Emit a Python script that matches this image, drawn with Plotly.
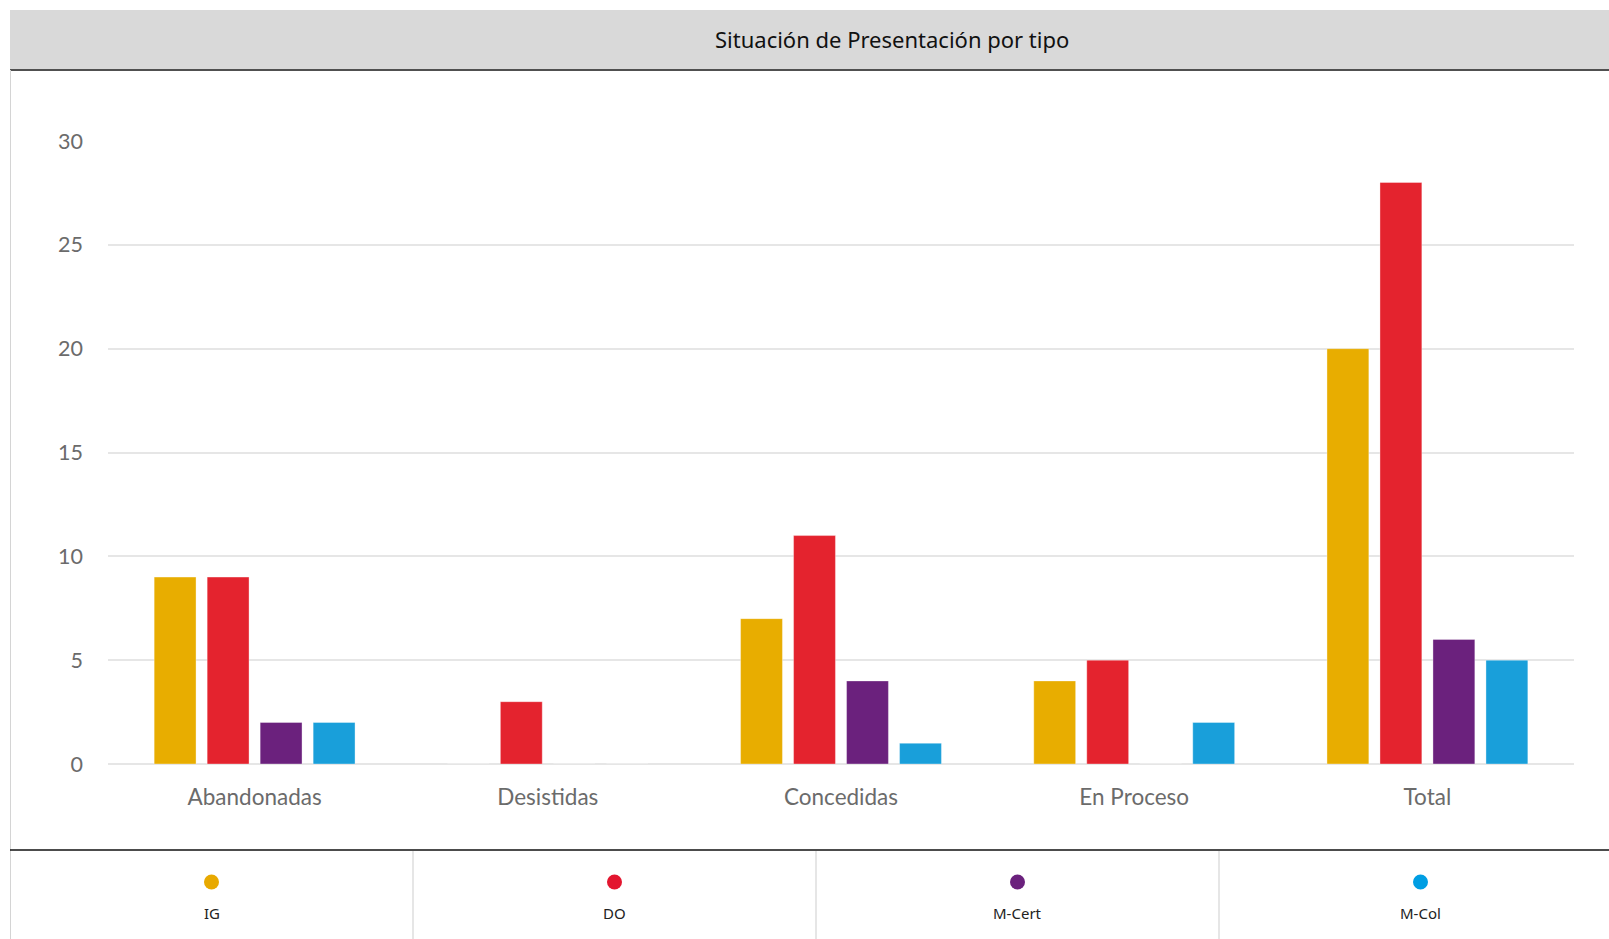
import plotly.graph_objects as go

categories = ["Abandonadas", "Desistidas", "Concedidas", "En Proceso", "Total"]
series_names = ["IG", "DO", "M-Cert", "M-Col"]
ig = [9, 0, 7, 4, 20]
do = [9, 3, 11, 5, 28]
mcert = [2, 0, 4, 0, 6]
mcol = [2, 0, 1, 2, 5]
series_values = [ig, do, mcert, mcol]
bar_colors = ["#E8AD00", "#E4232E", "#6B217D", "#199FDA"]
legend_colors = ["#E8A900", "#E3162F", "#6B217D", "#009EE3"]
y_ticks = [0, 5, 10, 15, 20, 25, 30]
title_text = "Situación de Presentación por tipo"

FW, FH = 1609, 939
L, R_PX, T_PX, B_PX = 108, 1574, 141, 764
W = R_PX - L
H = B_PX - T_PX


def xp(px):
    return (px - L) / W


def yp(py):
    return (B_PX - py) / H


fig = go.Figure()
for name, vals, col in zip(series_names, series_values, bar_colors):
    fig.add_trace(go.Bar(
        x=categories, y=vals, name=name,
        marker=dict(color=col, line=dict(color="rgba(255,255,255,0.35)", width=1)),
        hoverinfo="x+y+name",
    ))

shapes = []
# header band
shapes.append(dict(type="rect", xref="paper", yref="paper",
                   x0=xp(10), x1=xp(FW + 5), y0=yp(70), y1=yp(10),
                   fillcolor="#D9D9D9", line=dict(width=0), layer="above"))
shapes.append(dict(type="line", xref="paper", yref="paper",
                   x0=xp(10), x1=xp(FW + 5), y0=yp(70), y1=yp(70),
                   line=dict(color="#505050", width=2), layer="above"))
# left border
shapes.append(dict(type="line", xref="paper", yref="paper",
                   x0=xp(10.5), x1=xp(10.5), y0=yp(70), y1=yp(FH + 5),
                   line=dict(color="#D4D4D4", width=1), layer="above"))
# legend separator
shapes.append(dict(type="line", xref="paper", yref="paper",
                   x0=xp(10), x1=xp(FW + 5), y0=yp(850), y1=yp(850),
                   line=dict(color="#111111", width=1.5), layer="above"))
cell_w = 403
for i in range(1, 4):
    xx = 10 + i * cell_w
    shapes.append(dict(type="line", xref="paper", yref="paper",
                       x0=xp(xx), x1=xp(xx), y0=yp(851), y1=yp(FH + 5),
                       line=dict(color="#D6D6D6", width=1.2), layer="above"))

annotations = [dict(text=title_text, xref="paper", yref="paper",
                    x=xp(892), y=yp(39), xanchor="center", yanchor="middle",
                    showarrow=False, font=dict(family="Noto Sans", size=22, color="#111111"))]

for i, (name, col) in enumerate(zip(series_names, legend_colors)):
    cx = 10 + cell_w * i + cell_w / 2
    r = 7.5
    shapes.append(dict(type="circle", xref="paper", yref="paper",
                       x0=xp(cx - r), x1=xp(cx + r), y0=yp(882 + r), y1=yp(882 - r),
                       fillcolor=col, line=dict(width=0), layer="above"))
    annotations.append(dict(text=name, xref="paper", yref="paper",
                            x=xp(cx), y=yp(913), xanchor="center", yanchor="middle",
                            showarrow=False,
                            font=dict(family="Noto Sans", size=15, color="#222222")))

fig.update_layout(
    width=FW, height=FH,
    margin=dict(l=L, r=FW - R_PX, t=T_PX, b=FH - B_PX, autoexpand=False),
    paper_bgcolor="white", plot_bgcolor="white",
    barmode="group", bargap=0.277, bargroupgap=0.21,
    showlegend=False,
    shapes=shapes, annotations=annotations,
    xaxis=dict(showgrid=False, showline=False, ticks="", zeroline=False,
               tickfont=dict(family="Lato", size=22.5, color="#6B6B6B"),
               ticklabelstandoff=17, fixedrange=True),
    yaxis=dict(range=[0, 30], tickvals=y_ticks, showgrid=True,
               gridcolor="#E6E6E6", gridwidth=2, zeroline=True,
               zerolinecolor="#E6E6E6", zerolinewidth=2, showline=False,
               ticks="", tickfont=dict(family="Lato", size=21.5, color="#6B6B6B"),
               ticklabelstandoff=24, fixedrange=True),
)

fig.write_html("out.html")
